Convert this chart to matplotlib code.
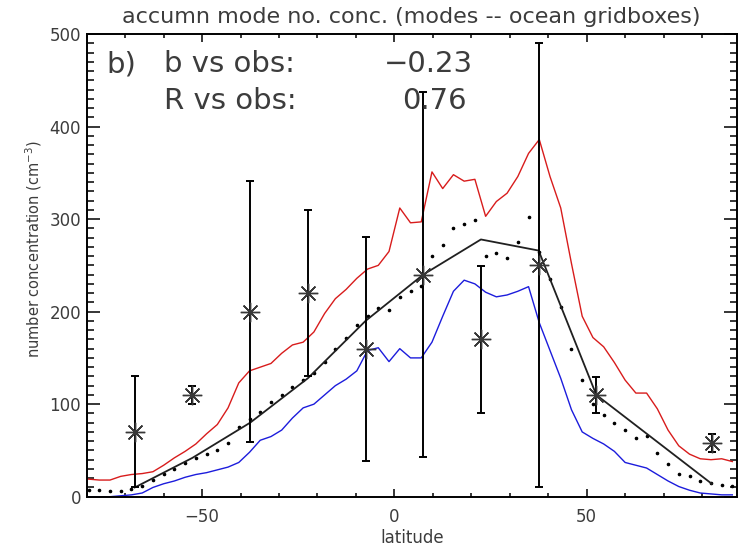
import matplotlib
matplotlib.use("Agg")
import matplotlib.pyplot as plt
from matplotlib.ticker import MultipleLocator

plt.rcParams['font.family'] = ['DejaVu Sans']

# Model latitude grid (Gaussian grid latitudes, degrees)
grid_lat = [-79.52, -76.73, -73.94, -71.15, -68.36, -65.57, -62.78, -59.99,
            -57.20, -54.41, -51.62, -48.83, -46.04, -43.25, -40.46, -37.67,
            -34.88, -32.09, -29.30, -26.51, -23.72, -20.93, -18.14, -15.35,
            -12.56, -9.77, -6.98, -4.19, -1.40, 1.40, 4.19, 6.98,
            9.77, 12.56, 15.35, 18.14, 20.93, 23.72, 26.51, 29.30,
            32.09, 34.88, 37.67, 40.46, 43.25, 46.04, 48.83, 51.62,
            54.41, 57.20, 59.99, 62.78, 65.57, 68.36, 71.15, 73.94,
            76.73, 79.52, 82.31, 85.10, 87.86]

# Upper envelope over ocean gridboxes
conc_max = [19, 18, 18, 22, 24, 25, 27, 34,
            42, 49, 57, 68, 78, 96, 123, 136,
            140, 144, 155, 164, 167, 178, 198, 214,
            224, 236, 246, 250, 265, 312, 296, 297,
            351, 333, 348, 341, 343, 303, 319, 328,
            346, 371, 386, 346, 312, 252, 195, 172,
            162, 145, 126, 112, 112, 95, 72, 55,
            46, 41, 40, 41, 38]

# Lower envelope over ocean gridboxes
conc_min = [0, 0, 0, 1, 2, 4, 10, 14,
            17, 21, 24, 26, 29, 32, 37, 48,
            61, 65, 72, 85, 96, 100, 110, 120,
            127, 136, 158, 161, 146, 160, 150, 150,
            167, 195, 222, 234, 230, 221, 216, 218,
            222, 227, 188, 158, 128, 94, 70, 63,
            57, 49, 37, 34, 31, 24, 17, 11,
            7, 4, 3, 2, 2]

# Zonal mean of the model
conc_mean = [7, 7, 6, 6, 8, 12, 18, 24,
             30, 36, 42, 46, 50, 58, 75, 84,
             92, 102, 110, 119, 126, 134, 146, 160,
             172, 186, 195, 204, 202, 216, 222, 228,
             260, 272, 290, 295, 299, 260, 263, 258,
             275, 302, 264, 235, 205, 160, 126, 100,
             88, 80, 72, 63, 66, 47, 35, 25,
             22, 17, 15, 13, 12]

# Observations binned in 15-degree latitude bands
obs_lat = [-67.5, -52.5, -37.5, -22.5, -7.5, 7.5, 22.5, 37.5, 52.5, 82.5]
obs_conc = [70, 110, 200, 220, 160, 240, 170, 250, 110, 58]
obs_err = [60, 10, 141, 90, 121, 197, 79, 240, 19, 10]

# Model sampled at the observation bands
model_lat = [-67.5, -52.5, -37.5, -22.5, -7.5, 7.5, 22.5, 37.5, 52.5, 82.5]
model_conc = [10, 42, 80, 128, 190, 240, 278, 266, 110, 14]

title = "accumn mode no. conc. (modes -- ocean gridboxes)"
panel_tag = "b)"
stat_labels = ["b vs obs:", "R vs obs:"]
stat_values = ["\u22120.23", "0.76"]

text_grey = '#3c3c3c'

fig = plt.figure(figsize=(7.41, 5.48), dpi=100)
ax = fig.add_axes([0.117, 0.0936, 0.8772, 0.8443])

ax.plot(grid_lat, conc_max, color='#d81c1c', lw=1.0, zorder=2)
ax.plot(grid_lat, conc_min, color='#1c1cdc', lw=1.0, zorder=2)
ax.plot(grid_lat, conc_mean, linestyle='none', marker='o', ms=1.6,
        color='black', zorder=3)
ax.plot(model_lat, model_conc, color='#202020', lw=1.3, zorder=3)
ax.errorbar(obs_lat, obs_conc, yerr=obs_err, fmt='none', ecolor='black',
            elinewidth=1.4, capsize=3.0, capthick=1.4, zorder=4)
ax.plot(obs_lat, obs_conc, linestyle='none', marker=(8, 2, 0), ms=14,
        mew=1.0, mec='#383838', zorder=5)

ax.set_xlim(-80, 89)
ax.set_ylim(0, 500)
ax.xaxis.set_major_locator(MultipleLocator(50))
ax.xaxis.set_minor_locator(MultipleLocator(10))
ax.yaxis.set_major_locator(MultipleLocator(100))
ax.yaxis.set_minor_locator(MultipleLocator(10))
ax.tick_params(axis='both', which='both', direction='in', top=True,
               right=True, width=1.1, colors='black', labelcolor=text_grey,
               labelsize=12)
ax.tick_params(axis='x', which='major', length=5.8, pad=8)
ax.tick_params(axis='x', which='minor', length=2.9)
ax.tick_params(axis='y', which='major', length=9.4, pad=4)
ax.tick_params(axis='y', which='minor', length=5.0)
for sp in ax.spines.values():
    sp.set_linewidth(1.4)

ax.set_xlabel("latitude", fontsize=12, color=text_grey, labelpad=2)
ax.set_ylabel("number concentration (cm$^{-3}$)", fontsize=10.5,
              color=text_grey)
ax.yaxis.set_label_coords(-0.066, 0.535)

fig.text(0.5556, 0.969, title, ha='center', va='center', fontsize=16,
         color=text_grey)

fig.text(106 / 741, 1 - 72 / 548, panel_tag, fontsize=21, color=text_grey,
         va='baseline')
fig.text(164 / 741, 1 - 72 / 548, stat_labels[0], fontsize=21,
         color=text_grey, va='baseline')
fig.text(164 / 741, 1 - 109 / 548, stat_labels[1], fontsize=21,
         color=text_grey, va='baseline')
fig.text(384 / 741, 1 - 72 / 548, stat_values[0], fontsize=21,
         color=text_grey, va='baseline')
fig.text(402 / 741, 1 - 109 / 548, stat_values[1], fontsize=21,
         color=text_grey, va='baseline')

fig.savefig("out.png", dpi=100)
